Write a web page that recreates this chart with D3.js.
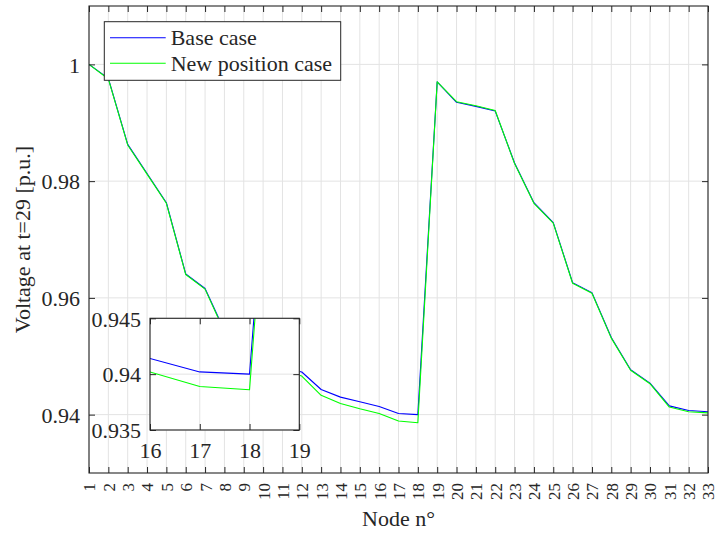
<!DOCTYPE html>
<html><head><meta charset="utf-8">
<script src="https://cdn.jsdelivr.net/npm/d3@7"></script>
<style>
body{margin:0;background:#fff}
svg{display:block}
text{font-family:"Liberation Serif","Times New Roman",serif;fill:#262626}
</style>
</head><body><svg id="c" width="717" height="533"></svg>
<script>
const nodes = [1,2,3,4,5,6,7,8,9,10,11,12,13,14,15,16,17,18,19,20,21,22,23,24,25,26,27,28,29,30,31,32,33];
const baseCase = [1.0000,0.9976,0.9863,0.9813,0.9763,0.9641,0.9616,0.9544,0.9514,0.9484,0.9481,0.9473,0.9443,0.9430,0.9422,0.9414,0.9402,0.9400,0.9970,0.9935,0.9928,0.9920,0.9831,0.9763,0.9729,0.9626,0.9609,0.9532,0.9477,0.9454,0.9415,0.9407,0.9405];
const newCase  = [1.0000,0.9975,0.9862,0.9812,0.9762,0.9640,0.9615,0.9542,0.9511,0.9480,0.9476,0.9466,0.9433,0.9419,0.9410,0.9402,0.9389,0.9386,0.9970,0.9936,0.9929,0.9921,0.9830,0.9762,0.9728,0.9625,0.9608,0.9531,0.9476,0.9453,0.9413,0.9405,0.9403];
const yTicks = [0.94,0.96,0.98,1];
const insetXTicks = [16,17,18,19];
const insetYTicks = [0.935,0.94,0.945];
const seriesNames = ["Base case","New position case"];
const seriesColors = ["#0000ff","#00ff00"];
const xLabel = "Node n°";
const yLabel = "Voltage at t=29 [p.u.]";

const svg = d3.select("#c");
const axisColor = "#262626";
const gridColor = "#e3e3e3";
const serif = '"Liberation Serif","Times New Roman",serif';

function panel(g, x, y, xt, yt){
  const [x0,x1] = x.range(), [y1,y0] = y.range();
  g.append("rect").attr("x",x0).attr("y",y0).attr("width",x1-x0).attr("height",y1-y0).attr("fill","#fff");
  const grid = g.append("g").attr("stroke",gridColor).attr("stroke-width",1);
  grid.selectAll("line.gx").data(xt).join("line").attr("class","gx")
    .attr("x1",d=>x(d)).attr("x2",d=>x(d)).attr("y1",y0).attr("y2",y1);
  grid.selectAll("line.gy").data(yt).join("line").attr("class","gy")
    .attr("y1",d=>y(d)).attr("y2",d=>y(d)).attr("x1",x0).attr("x2",x1);
}
function frame(g, x, y, xt, yt, opts){
  const [x0,x1] = x.range(), [y1,y0] = y.range();
  const tl = 6;
  const ax = g.append("g").attr("color",axisColor);
  const b = ax.append("g").attr("transform",`translate(0,${y1})`)
    .call(d3.axisBottom(x).tickValues(xt).tickSizeInner(-tl).tickSizeOuter(0).tickFormat(opts.xfmt));
  ax.append("g").attr("transform",`translate(0,${y0})`)
    .call(d3.axisTop(x).tickValues(xt).tickSizeInner(-tl).tickSizeOuter(0).tickFormat(""));
  const l = ax.append("g").attr("transform",`translate(${x0},0)`)
    .call(d3.axisLeft(y).tickValues(yt).tickSizeInner(-tl).tickSizeOuter(0).tickFormat(opts.yfmt));
  ax.append("g").attr("transform",`translate(${x1},0)`)
    .call(d3.axisRight(y).tickValues(yt).tickSizeInner(-tl).tickSizeOuter(0).tickFormat(""));
  ax.selectAll(".domain").remove();
  ax.selectAll("g").attr("font-family",serif);
  ax.selectAll("text").attr("fill","#262626").style("font-family",serif);
  l.selectAll("text").attr("x",-9).attr("dy","0.35em").style("font-size",opts.yfs+"px");
  ax.append("rect").attr("x",x0).attr("y",y0).attr("width",x1-x0).attr("height",y1-y0)
    .attr("fill","none").attr("stroke",axisColor).attr("stroke-width",1.1);
  return b;
}
function series(g, x, y, clipId){
  const line = d3.line().x((d,i)=>x(nodes[i])).y(d=>y(d));
  const sg = g.append("g").attr("clip-path",`url(#${clipId})`);
  [baseCase,newCase].forEach((s,k)=>{
    sg.append("path").datum(s).attr("d",line).attr("fill","none")
      .attr("stroke",seriesColors[k]).attr("stroke-width",1.1).attr("stroke-linejoin","round");
  });
}

// main
const x = d3.scaleLinear().domain([1,33]).range([89,708]);
const y = d3.scaleLinear().domain([0.93,1.01]).range([473,6]);
const defs = svg.append("defs");
defs.append("clipPath").attr("id","cm").append("rect").attr("x",89).attr("y",6).attr("width",619).attr("height",467);
const main = svg.append("g");
panel(main,x,y,nodes,yTicks);
series(main,x,y,"cm");
const bm = frame(main,x,y,nodes,yTicks,{xfmt:d=>d, yfmt:d=>d3.format("")(d), yfs:22});
bm.selectAll("text").attr("transform","rotate(-90)").attr("x",-10).attr("y",0).attr("dy","0.35em")
  .style("text-anchor","end").style("font-size","17px");

// labels
svg.append("text").attr("x",398.5).attr("y",526).attr("text-anchor","middle").style("font-size","22px").text(xLabel);
svg.append("text").attr("transform","translate(30,239.5) rotate(-90)").attr("text-anchor","middle").style("font-size","22px").text(yLabel);

// legend
const lg = svg.append("g");
lg.append("rect").attr("x",104.3).attr("y",21.7).attr("width",236.4).attr("height",58.6)
  .attr("fill","#fff").attr("stroke",axisColor).attr("stroke-width",1);
seriesNames.forEach((n,k)=>{
  const yy = 37.7 + k*25.6;
  lg.append("line").attr("x1",110).attr("x2",165.7).attr("y1",yy).attr("y2",yy)
    .attr("stroke",seriesColors[k]).attr("stroke-width",1.1);
  lg.append("text").attr("x",170.7).attr("y",yy).attr("dy","0.33em").style("font-size","22px").text(n);
});

// inset
const xi = d3.scaleLinear().domain([16,19]).range([150,299.3]);
const yi = d3.scaleLinear().domain([0.935,0.945]).range([430,318.3]);
defs.append("clipPath").attr("id","ci").append("rect").attr("x",150).attr("y",318.3).attr("width",149.3).attr("height",111.7);
const ins = svg.append("g");
panel(ins,xi,yi,insetXTicks,insetYTicks);
series(ins,xi,yi,"ci");
const bi = frame(ins,xi,yi,insetXTicks,insetYTicks,{xfmt:d=>d, yfmt:d=>d3.format("")(d), yfs:22});
bi.selectAll("text").attr("y",12).attr("dy","0.71em").style("font-size","22px");
</script></body></html>
